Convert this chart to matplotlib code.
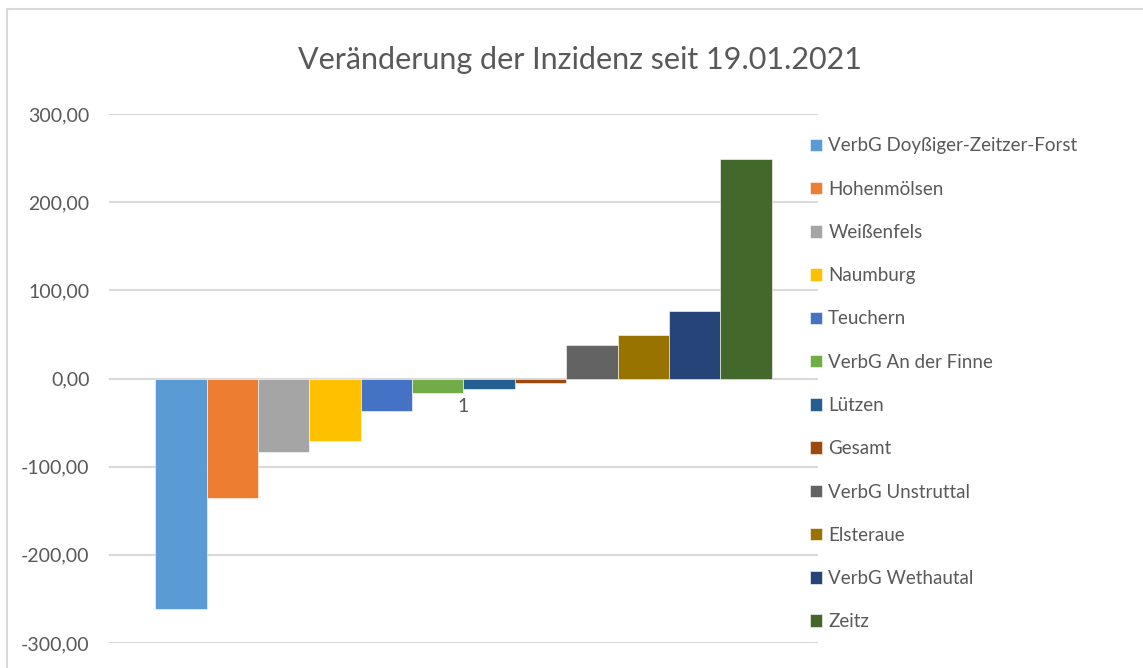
import matplotlib.pyplot as plt
from matplotlib.lines import Line2D

names = ['VerbG Doyßiger-Zeitzer-Forst', 'Hohenmölsen', 'Weißenfels', 'Naumburg',
         'Teuchern', 'VerbG An der Finne', 'Lützen', 'Gesamt', 'VerbG Unstruttal',
         'Elsteraue', 'VerbG Wethautal', 'Zeitz']
values = [-262, -135, -83, -71, -37, -17, -12, -5, 38, 49, 77, 249]
colors = ['#5B9BD5', '#ED7D31', '#A5A5A5', '#FFC000', '#4472C4', '#70AD47',
          '#255E91', '#9E480E', '#636363', '#997300', '#264478', '#43682B']
yticks = [-300, -200, -100, 0, 100, 200, 300]

plt.rcParams['font.family'] = ['Lato', 'DejaVu Sans']
txt = '#595959'

fig = plt.figure(figsize=(11.43, 6.68), dpi=100)
ax = fig.add_axes([109 / 1143, 1 - 643 / 668, 709 / 1143, 529 / 668])

group = 0.869
w = group / len(values)
for i, (n, v, c) in enumerate(zip(names, values, colors)):
    x = -group / 2 + w * (i + 0.5)
    ax.bar(x, v, width=w, color=c, label=n, edgecolor='white', linewidth=0.4, zorder=3)

ax.set_xlim(-0.5, 0.5)
ax.set_ylim(-300, 300)
ax.set_yticks(yticks)
ax.set_yticklabels([f'{t:.2f}'.replace('.', ',') for t in yticks], fontsize=14, color=txt)
ax.tick_params(axis='y', length=0, pad=14)
ax.set_xticks([])
ax.grid(axis='y', color='#d9d9d9', linewidth=1.5, zorder=0)
for s in ax.spines.values():
    s.set_visible(False)
ax.annotate('1', xy=(0, 0), xytext=(0, -14), textcoords='offset points',
            ha='center', va='top', fontsize=14, color=txt)

fig.text(580 / 1143, 1 - 60 / 668, 'Veränderung der Inzidenz seit 19.01.2021',
         ha='center', va='center', fontsize=22, color=txt)

leg = ax.legend(loc='upper left', bbox_to_anchor=(802 / 1143, 1 - 130 / 668),
                bbox_transform=fig.transFigure, frameon=False, fontsize=13.5,
                handlelength=0.65, handleheight=0.65, handletextpad=0.35,
                labelspacing=1.40, borderaxespad=0)
for t in leg.get_texts():
    t.set_color(txt)

# chart border (partly cut off)
fig.add_artist(Line2D([7 / 1143, 7 / 1143], [0, 1 - 9 / 668], color='#d9d9d9', lw=1.5))
fig.add_artist(Line2D([7 / 1143, 1], [1 - 9 / 668, 1 - 9 / 668], color='#d9d9d9', lw=1.5))

fig.savefig('out.png', dpi=100)
